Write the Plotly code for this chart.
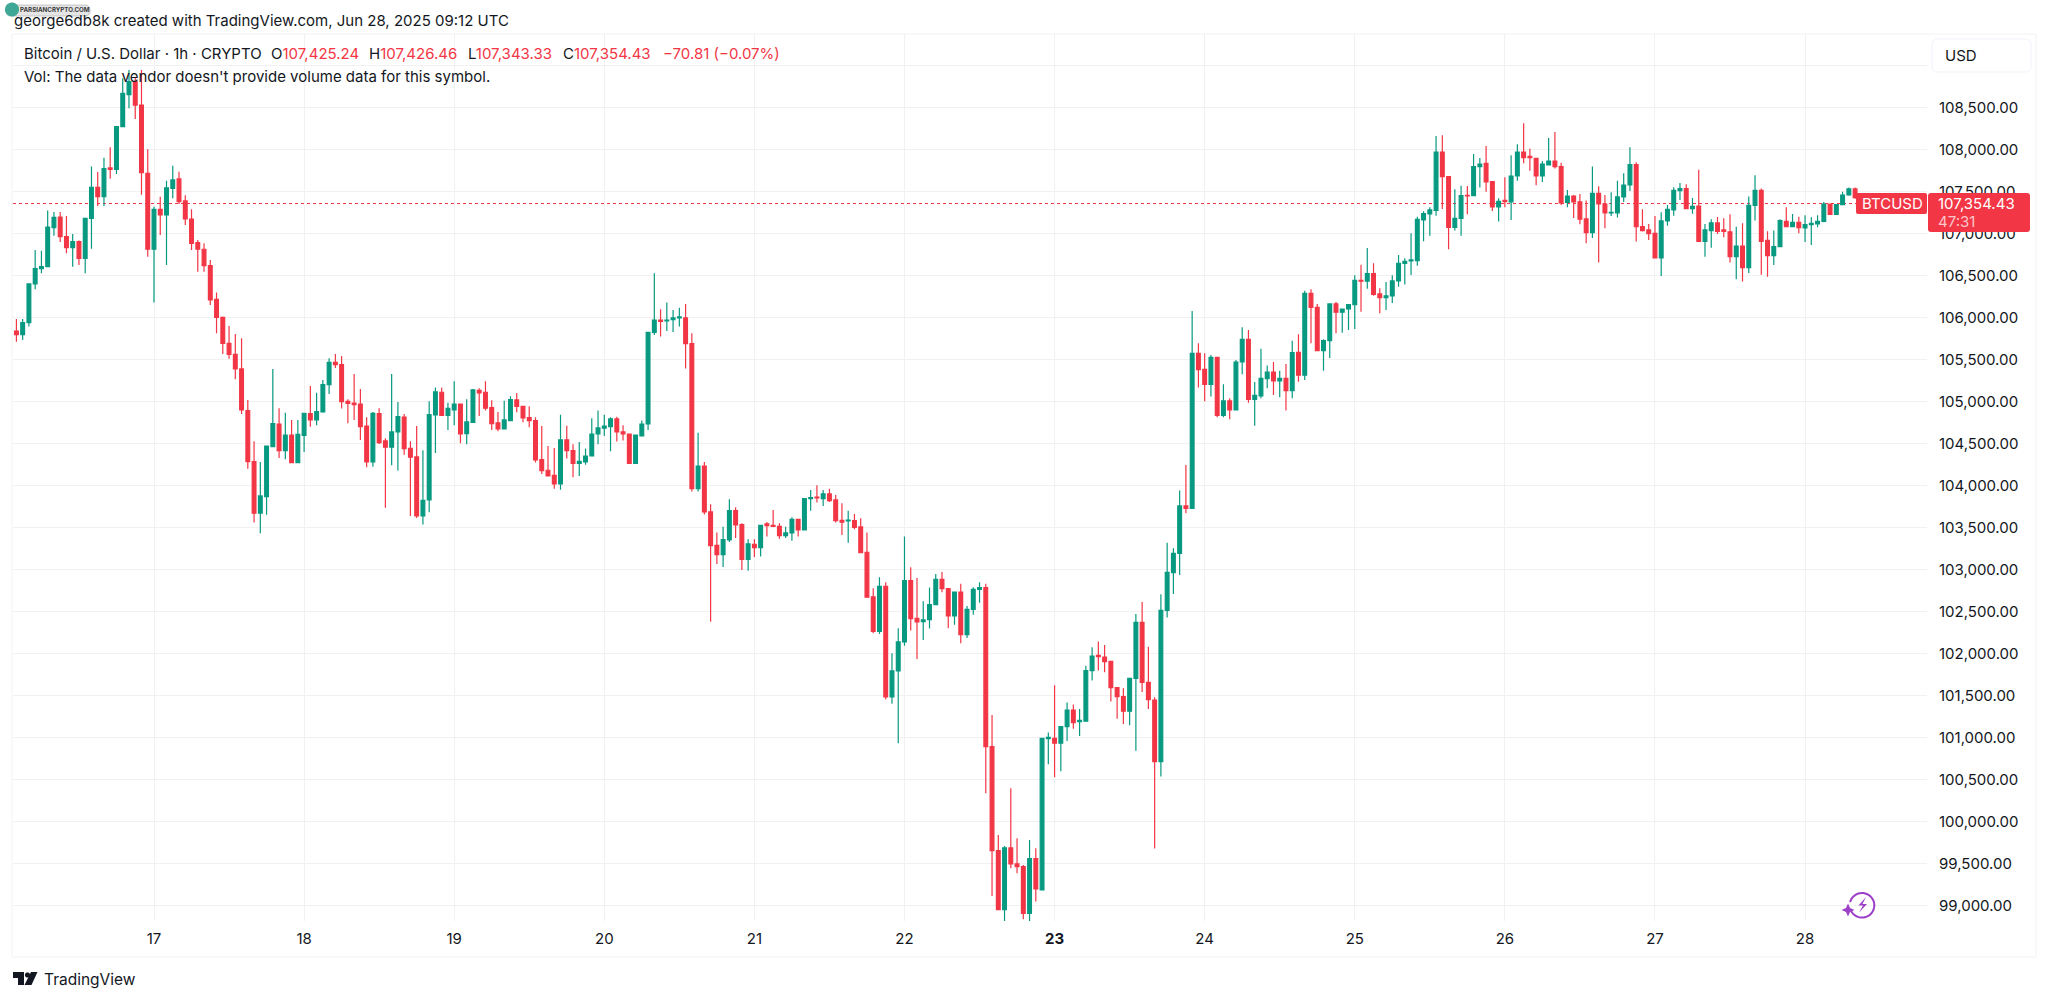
import numpy as np
import pandas as pd
import plotly.graph_objects as go

FIRST_HOUR = "2025-06-16 01:00"

opens = [
    105452, 105837, 105794, 105937, 106397, 106579, 106603, 107067, 107194, 106960,
    106829, 106900, 106702, 107178, 107547, 107436, 107778, 107762, 108270, 108650,
    108805, 108527, 107714, 106810, 107286, 107218, 107535, 107647, 107385, 107170,
    106889, 106810, 106615, 106214, 106000, 105690, 105559, 105385, 104889, 104282,
    103667, 103865, 104460, 104730, 104413, 104599, 104270, 104595, 104853, 104778,
    104873, 105199, 105464, 105436, 105000, 104980, 104968, 104706, 104278, 104853,
    104528, 104453, 104635, 104813, 104441, 104338, 103635, 103825, 104837, 105108,
    104833, 104897, 104968, 104615, 104750, 105131, 105108, 104924, 104742, 104671,
    104770, 105016, 104940, 104806, 104770, 104306, 104179, 104119, 104016, 104540,
    104413, 104262, 104278, 104349, 104611, 104679, 104698, 104790, 104635, 104611,
    104262, 104587, 104730, 105821, 105968, 105956, 105972, 105992, 105992, 105686,
    103960, 104230, 103683, 103286, 103175, 103349, 103698, 103532, 103119, 103298,
    103258, 103540, 103524, 103512, 103401, 103433, 103595, 103468, 103841, 103861,
    103841, 103897, 103826, 103583, 103575, 103580, 103504, 103203, 102671, 102262,
    102798, 101480, 101790, 102136, 102865, 102417, 102377, 102401, 102580, 102881,
    102770, 102444, 102730, 102222, 102524, 102762, 102782, 100889, 99651, 98949,
    99683, 99492, 99460, 98905, 99556, 99183, 100984, 100988, 100929, 101127,
    101325, 101187, 101191, 101794, 101976, 101956, 101905, 101591, 101484, 101310,
    101702, 102369, 101655, 101444, 100710, 102512, 102960, 103190, 103754, 103726,
    105571, 105381, 105202, 105524, 104833, 105004, 104897, 105468, 105738, 105024,
    105063, 105270, 105349, 105242, 105274, 105127, 105583, 105310, 106286, 106119,
    105603, 105722, 106159, 106060, 106099, 106151, 106440, 106429, 106520, 106278,
    106234, 106254, 106433, 106643, 106671, 106675, 107159, 107230, 107274, 107968,
    107675, 107071, 107178, 107452, 107448, 107794, 107833, 107615, 107313, 107393,
    107373, 107682, 107968, 107917, 107893, 107682, 107813, 107861, 107794, 107369,
    107444, 107373, 107171, 107008, 107476, 107349, 107242, 107242, 107433, 107575,
    107817, 107079, 107040, 107000, 106706, 107147, 107278, 107508, 107532, 107294,
    107325, 106905, 107032, 107123, 107040, 107016, 106722, 106849, 106591, 107333,
    107512, 106917, 106734, 106841, 107143, 107079, 107131, 107063, 107103, 107111,
    107143, 107349, 107226, 107341, 107456, 107528, 107425.24,
]
highs = [
    105830, 105980, 105980, 106400, 106800, 106793, 107270, 107254, 107254, 107206,
    106992, 106913, 107178, 107794, 107730, 107900, 108024, 108278, 108845, 108944,
    108850, 108944, 108000, 107317, 107436, 107627, 107805, 107734, 107452, 107286,
    106920, 106881, 106682, 106294, 106010, 105897, 105802, 105750, 105016, 104524,
    104278, 104468, 105385, 104916, 104865, 104778, 104778, 104865, 105182, 105103,
    105254, 105512, 105563, 105540, 105024, 105325, 105147, 104810, 104873, 104916,
    104560, 105325, 104992, 104849, 104524, 104706, 104417, 105000, 105163, 105163,
    104984, 105239, 104968, 105024, 105147, 105155, 105239, 105012, 104873, 105008,
    105060, 105100, 104940, 104940, 104810, 104706, 104468, 104445, 104841, 104710,
    104488, 104516, 104437, 104798, 104889, 104841, 104810, 104817, 104714, 104611,
    104599, 104770, 105821, 106524, 106095, 106175, 106087, 106115, 106159, 105810,
    104627, 104278, 103774, 103437, 103508, 103833, 103738, 103548, 103357, 103357,
    103524, 103564, 103707, 103548, 103508, 103619, 103595, 103841, 103945, 104000,
    103945, 103960, 103885, 103786, 103698, 103659, 103607, 103437, 102774, 102905,
    102845, 102000, 102298, 103389, 103024, 102897, 102620, 102782, 102945, 102968,
    102770, 102730, 102829, 102563, 102786, 102845, 102829, 101266, 99837, 99707,
    100393, 99798, 99480, 99778, 99679, 100988, 101056, 101619, 101135, 101413,
    101389, 101337, 101853, 102071, 102139, 102099, 101905, 101599, 101583, 101702,
    102468, 102611, 102079, 101476, 102702, 103317, 103250, 103937, 104242, 106075,
    105690, 105571, 105552, 105524, 105202, 105036, 105492, 105881, 105849, 105230,
    105627, 105425, 105468, 105365, 105444, 105722, 105798, 106317, 106333, 106159,
    105738, 106167, 106183, 106099, 106151, 106500, 106627, 106825, 106643, 106345,
    106421, 106500, 106742, 106702, 107000, 107198, 107262, 107310, 108159, 108167,
    107682, 107524, 107567, 107563, 107944, 107897, 108040, 107615, 107417, 107667,
    107929, 108060, 108309, 108008, 107893, 107861, 108135, 108206, 107841, 107516,
    107456, 107468, 107389, 107794, 107560, 107456, 107488, 107627, 107714, 108024,
    107845, 107286, 107111, 107206, 107250, 107337, 107548, 107599, 107583, 107421,
    107758, 107111, 107167, 107194, 107179, 107226, 107079, 107119, 107437, 107690,
    107532, 107024, 107032, 107167, 107310, 107230, 107198, 107214, 107190, 107214,
    107373, 107349, 107349, 107496, 107544, 107544, 107426.46,
]
lows = [
    105452, 105710, 105730, 105890, 106333, 106524, 106600, 106972, 106897, 106762,
    106603, 106623, 106524, 106817, 107325, 107325, 107650, 107706, 108262, 108488,
    108361, 107460, 106722, 106175, 106980, 106623, 107416, 107349, 107099, 106800,
    106543, 106543, 106147, 105810, 105563, 105508, 105262, 104849, 104198, 103556,
    103430, 103650, 104460, 104325, 104310, 104270, 104270, 104397, 104698, 104714,
    104865, 105087, 105397, 104913, 104738, 104778, 104540, 104214, 104222, 104492,
    103734, 104238, 104175, 104365, 103635, 103611, 103532, 103679, 104385, 104833,
    104659, 104714, 104500, 104488, 104750, 104825, 104889, 104659, 104643, 104671,
    104770, 104869, 104750, 104690, 104270, 104135, 104111, 103960, 103948, 104318,
    104095, 104111, 104246, 104349, 104488, 104587, 104405, 104520, 104532, 104254,
    104262, 104587, 104659, 105790, 105770, 105837, 105825, 105889, 105389, 103925,
    103925, 103651, 102377, 103064, 103028, 103325, 103373, 102992, 102984, 103147,
    103151, 103389, 103512, 103365, 103373, 103341, 103389, 103468, 103698, 103794,
    103754, 103802, 103556, 103409, 103317, 103476, 103199, 102667, 102238, 102230,
    101450, 101400, 100930, 102090, 102270, 101933, 102159, 102294, 102580, 102726,
    102298, 102341, 102119, 102183, 102460, 102603, 100333, 99111, 98949, 98814,
    99441, 99381, 98833, 98814, 99044, 99175, 100679, 100524, 100595, 100956,
    101103, 101016, 101191, 101675, 101794, 101774, 101425, 101222, 101159, 101143,
    100841, 101540, 101337, 99675, 100532, 102425, 102706, 102932, 103667, 103726,
    105163, 105000, 105056, 104810, 104810, 104786, 104897, 105321, 104984, 104710,
    105036, 105155, 105075, 105048, 104889, 105036, 105234, 105254, 105690, 105603,
    105365, 105516, 105810, 105817, 105849, 105861, 106067, 106341, 106258, 106048,
    106087, 106171, 106365, 106389, 106504, 106615, 106905, 106972, 107210, 107290,
    106810, 107032, 106972, 107226, 107448, 107544, 107496, 107266, 107139, 107310,
    107159, 107627, 107833, 107746, 107571, 107611, 107809, 107770, 107337, 107310,
    107183, 107107, 106881, 106944, 106651, 107060, 107206, 107187, 107373, 107504,
    106901, 107020, 106921, 106706, 106492, 107091, 107210, 107397, 107294, 107234,
    106901, 106722, 106829, 106992, 106952, 106651, 106452, 106425, 106526, 107151,
    106508, 106484, 106623, 106841, 107079, 107079, 107000, 106897, 106861, 107071,
    107131, 107226, 107226, 107333, 107448, 107410, 107343.33,
]
closes = [
    105830, 105794, 105937, 106397, 106579, 106603, 107075, 107190, 106960, 106829,
    106900, 106702, 107178, 107547, 107436, 107770, 107762, 108270, 108666, 108805,
    108527, 107722, 106810, 107286, 107218, 107540, 107635, 107377, 107170, 106881,
    106810, 106615, 106206, 106000, 105690, 105559, 105385, 104897, 104282, 103667,
    103873, 104468, 104734, 104413, 104599, 104270, 104607, 104857, 104778, 104877,
    105199, 105464, 105436, 104996, 104976, 104960, 104698, 104278, 104857, 104508,
    104453, 104635, 104817, 104437, 104334, 103635, 103821, 104841, 105112, 104833,
    104916, 104968, 104611, 104754, 105135, 105100, 104917, 104734, 104671, 104778,
    105020, 104940, 104802, 104770, 104302, 104175, 104111, 104016, 104540, 104413,
    104262, 104286, 104349, 104611, 104683, 104706, 104790, 104635, 104611, 104262,
    104599, 104730, 105821, 105968, 105952, 105968, 105992, 106004, 105686, 103960,
    104230, 103683, 103282, 103175, 103353, 103698, 103528, 103119, 103302, 103258,
    103524, 103520, 103512, 103401, 103433, 103595, 103468, 103841, 103853, 103849,
    103897, 103818, 103580, 103560, 103587, 103500, 103199, 102667, 102262, 102798,
    101480, 101790, 102136, 102865, 102413, 102373, 102397, 102580, 102881, 102770,
    102444, 102730, 102222, 102524, 102762, 102782, 100889, 99651, 98949, 99683,
    99492, 99460, 98905, 99556, 99195, 100988, 101000, 100929, 101127, 101325,
    101175, 101203, 101794, 101968, 101960, 101901, 101591, 101484, 101310, 101702,
    102369, 101655, 101448, 100710, 102512, 102964, 103190, 103754, 103726, 105571,
    105377, 105202, 105524, 104833, 105004, 104897, 105468, 105738, 105024, 105071,
    105274, 105349, 105242, 105274, 105127, 105579, 105310, 106286, 106119, 105603,
    105722, 106159, 106060, 106099, 106151, 106440, 106429, 106520, 106274, 106234,
    106254, 106433, 106643, 106667, 106683, 107167, 107234, 107278, 107968, 107675,
    107071, 107178, 107448, 107444, 107794, 107825, 107611, 107313, 107381, 107377,
    107682, 107968, 107901, 107901, 107682, 107825, 107861, 107794, 107361, 107444,
    107373, 107167, 107008, 107476, 107349, 107242, 107250, 107433, 107575, 107817,
    107079, 107032, 106996, 106706, 107147, 107286, 107512, 107532, 107294, 107321,
    106905, 107040, 107123, 107024, 107024, 106722, 106849, 106591, 107333, 107512,
    106905, 106734, 106841, 107151, 107079, 107131, 107067, 107103, 107119, 107143,
    107349, 107226, 107341, 107456, 107528, 107425, 107354.43,
]
assert len(opens) == len(highs) == len(lows) == len(closes)

price_ticks = [99000, 99500, 100000, 100500, 101000, 101500, 102000, 102500, 103000,
               103500, 104000, 104500, 105000, 105500, 106000, 106500, 107000, 107500,
               108000, 108500, 109000]
day_ticks = ["2025-06-17", "2025-06-18", "2025-06-19", "2025-06-20", "2025-06-21", "2025-06-22",
             "2025-06-23", "2025-06-24", "2025-06-25", "2025-06-26", "2025-06-27", "2025-06-28"]
day_labels = ["17", "18", "19", "20", "21", "22", "<b>23</b>", "24", "25", "26", "27", "28"]
last_close = 107354.43

GREEN = "#089981"
RED = "#F23645"
INK = "#131722"
GRID = "#F1F1F1"
FONT = "Inter, Arial, sans-serif"

# pane rectangle in page pixels
W, H = 2048, 1001
L, R, T, B = 13, 1927, 34, 921


def px(x):
    return (x - L) / (R - L)


def py(y):
    return (B - y) / (B - T)


def poly(points):
    return "M" + " L".join(f"{px(x):.5f},{py(y):.5f}" for x, y in points) + " Z"


def round_rect(x0, y0, x1, y1, r):
    # y0 is the top edge, everything in page pixels
    def p(x, y):
        return f"{px(x):.5f},{py(y):.5f}"
    return (
        f"M{p(x0 + r, y0)} L{p(x1 - r, y0)} Q{p(x1, y0)} {p(x1, y0 + r)} "
        f"L{p(x1, y1 - r)} Q{p(x1, y1)} {p(x1 - r, y1)} "
        f"L{p(x0 + r, y1)} Q{p(x0, y1)} {p(x0, y1 - r)} "
        f"L{p(x0, y0 + r)} Q{p(x0, y0)} {p(x0 + r, y0)} Z"
    )


def arc(cx, cy, r, start, stop, closed=False):
    a = np.radians(np.linspace(start, stop, 40))
    pts = [(cx + r * np.cos(t), cy - r * np.sin(t)) for t in a]
    d = "M" + " L".join(f"{px(x):.5f},{py(y):.5f}" for x, y in pts)
    return d + (" Z" if closed else "")


def label(x, y, text, size=15, color=INK, anchor="left", **kw):
    fig.add_annotation(
        xref="paper", yref="paper", x=px(x), y=py(y), text=text, showarrow=False,
        xanchor=anchor, yanchor="middle", align="left",
        font=dict(family=FONT, size=size, color=color), borderpad=0, **kw,
    )


def shape_path(path, fill=None, line=None, width=0, layer="above"):
    fig.add_shape(
        type="path", xref="paper", yref="paper", path=path, layer=layer,
        fillcolor=fill or "rgba(0,0,0,0)",
        line=dict(color=line or "rgba(0,0,0,0)", width=width),
    )


hours = pd.date_range(FIRST_HOUR, periods=len(opens), freq="h")

fig = go.Figure()
fig.add_trace(
    go.Candlestick(
        x=hours,
        open=opens,
        high=highs,
        low=lows,
        close=closes,
        whiskerwidth=0,
        increasing=dict(line=dict(color=GREEN, width=1.2), fillcolor=GREEN),
        decreasing=dict(line=dict(color=RED, width=1.2), fillcolor=RED),
        showlegend=False,
    )
)

# 84 px per 1000 USD, 1h = 6.254 px; the range follows from the pane size
y_low = 108000 - (B - 149.3) * 1000 / 84
y_high = 108000 + (149.3 - T) * 1000 / 84
hour_ms = 3600000
x_left = pd.Timestamp("2025-06-17") - pd.Timedelta(milliseconds=int((154 - L) / 6.254 * hour_ms))
x_right = pd.Timestamp("2025-06-17") + pd.Timedelta(milliseconds=int((R - 154) / 6.254 * hour_ms))

fig.update_layout(
    width=W,
    height=H,
    margin=dict(l=L, r=W - R, t=T, b=H - B, pad=0),
    paper_bgcolor="#FFFFFF",
    plot_bgcolor="#FFFFFF",
    font=dict(family=FONT, color=INK),
    boxgap=0.14,
    boxgroupgap=0.3,
    showlegend=False,
    hovermode=False,
)
fig.update_xaxes(
    type="date",
    range=[x_left, x_right],
    rangeslider_visible=False,
    tickmode="array",
    tickvals=day_ticks,
    ticktext=day_labels,
    tickfont=dict(size=15, color=INK, family=FONT),
    ticks="outside",
    ticklen=4,
    tickcolor="rgba(0,0,0,0)",
    showgrid=True,
    gridcolor=GRID,
    gridwidth=1.3,
    zeroline=False,
    showline=False,
)
fig.update_yaxes(
    side="right",
    range=[y_low, y_high],
    tickmode="array",
    tickvals=price_ticks,
    ticktext=["" if v == 109000 else f"{v:,.2f}" for v in price_ticks],
    tickfont=dict(size=15, color=INK, family=FONT),
    ticks="outside",
    ticklen=8,
    tickcolor="rgba(0,0,0,0)",
    showgrid=True,
    gridcolor=GRID,
    gridwidth=1.3,
    zeroline=False,
    showline=False,
)

# outer frame of the chart
shape_path(round_rect(12, 34, 2036, 957, 1), line="#F2F2F2", width=1, layer="below")

# last price line
fig.add_shape(
    type="line", xref="paper", yref="y", x0=0, x1=px(1856), y0=last_close, y1=last_close,
    line=dict(color=RED, width=1, dash="dot"), layer="below",
)

# price tags
shape_path(round_rect(1856, 193, 1927, 214, 2), fill=RED)
shape_path(round_rect(1928, 193, 2030, 232, 3), fill=RED)
label(1861, 203.5, "BTCUSD", size=15, color="#FFFFFF")
label(1937, 203.5, "107,354.43", size=15, color="#FFFFFF")
label(1937, 222, "47:31", size=15, color="rgba(255,255,255,0.72)")

# currency button
shape_path(round_rect(1932, 39, 2031, 72, 6), fill="#FFFFFF", line="#F0F3FA", width=1)
label(1944, 55.5, "USD", size=15)

# header and status lines
label(13, 20, "george6db8k created with TradingView.com, Jun 28, 2025 09:12 UTC", size=15)
label(23, 54, "Bitcoin / U.S. Dollar · 1h · CRYPTO", size=15)
red_span = "<span style='color:%s'>%%s</span>" % RED
label(270, 54, "O" + red_span % "107,425.24", size=15)
label(368, 54, "H" + red_span % "107,426.46", size=15)
label(466.5, 54, "L" + red_span % "107,343.33", size=15)
label(561.5, 54, "C" + red_span % "107,354.43", size=15)
label(662, 54, "−70.81 (−0.07%)", size=15, color=RED)
label(23, 76, "Vol: The data vendor doesn't provide volume data for this symbol.", size=15)

# TradingView mark
shape_path(poly([(13, 972), (24, 972), (24, 985), (18, 985), (18, 978), (13, 978)]), fill=INK)
shape_path(arc(27.5, 975, 2.6, 0, 360, closed=True), fill=INK)
shape_path(poly([(31, 972), (37.5, 972), (31.5, 985), (24.5, 985)]), fill=INK)
label(43, 979, "TradingView", size=15.5, color=INK)

# watermark badge
shape_path(round_rect(6, 5, 90, 16, 5), fill="rgba(225,225,225,0.85)", line="rgba(170,170,170,0.6)", width=1)
shape_path(arc(12, 9.5, 7, 0, 360, closed=True), fill="#3FA796")
label(19, 10, "<b>PARSIANCRYPTO.COM</b>", size=6.2, color="#3A3A3A")

# purple bolt badge
PURPLE = "#9C3FC9"
shape_path(arc(1862, 905.3, 12.3, 205, 525), line=PURPLE, width=2)
shape_path(poly([(1866, 897), (1858.5, 905.5), (1863, 905.5), (1859, 912.5), (1867, 904), (1862.5, 904)]), fill=PURPLE)
shape_path(poly([(1848, 903.5), (1850, 908), (1854.5, 910), (1850, 912), (1848, 916.5), (1846, 912),
                 (1841.5, 910), (1846, 908)]), fill=PURPLE)

fig.write_html("out.html", config={"displayModeBar": False}, post_script="document.body.style.margin='0';")
